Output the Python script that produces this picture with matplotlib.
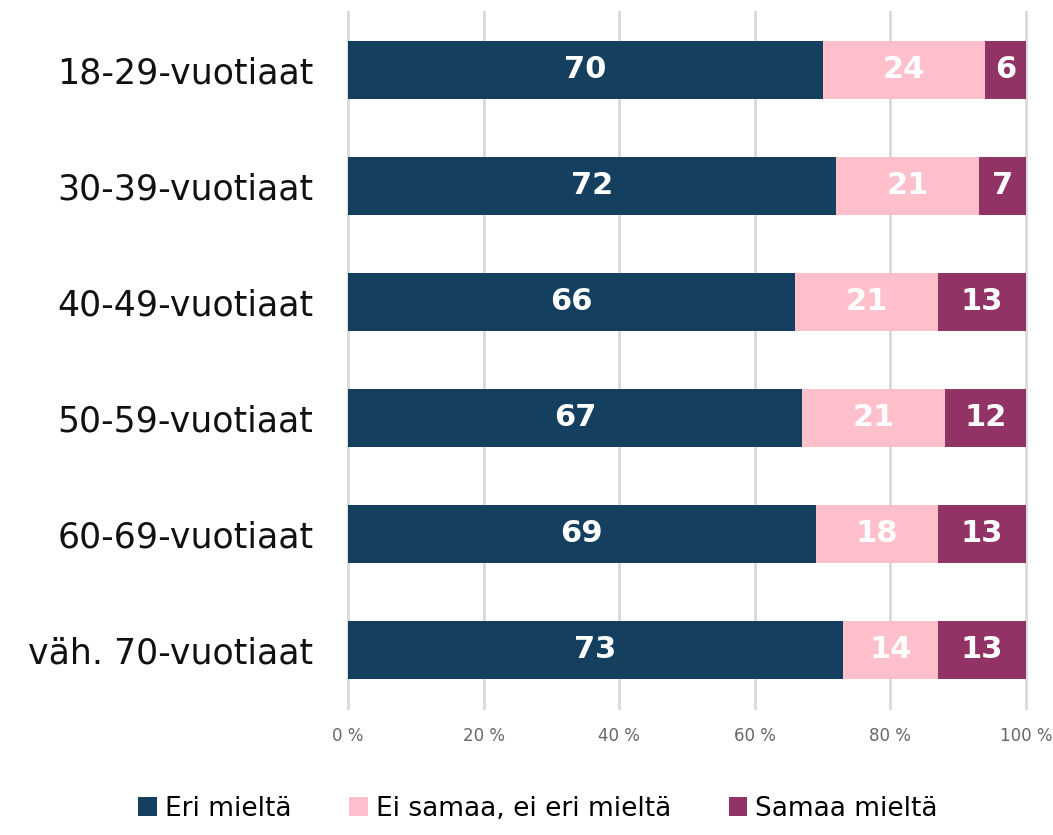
import numpy as np
import matplotlib.pyplot as plt

categories = ["18-29-vuotiaat", "30-39-vuotiaat", "40-49-vuotiaat",
              "50-59-vuotiaat", "60-69-vuotiaat", "väh. 70-vuotiaat"]
eri = [70, 72, 66, 67, 69, 73]
neutral = [24, 21, 21, 21, 18, 14]
samaa = [6, 7, 13, 12, 13, 13]
series_names = ["Eri mieltä", "Ei samaa, ei eri mieltä", "Samaa mieltä"]
colors = ["#143F5F", "#FFC0CB", "#923366"]
xticks = [0, 20, 40, 60, 80, 100]

fig = plt.figure(figsize=(10.53, 8.35), dpi=100)
ax = fig.add_axes([348 / 1053, 1 - 708 / 835, 678 / 1053, 696 / 835])

y = np.arange(len(categories))
left = np.zeros(len(categories))
for vals, name, col in zip([eri, neutral, samaa], series_names, colors):
    vals = np.array(vals)
    bars = ax.barh(y, vals, left=left, height=0.5, color=col, label=name, zorder=3)
    for b, v in zip(bars, vals):
        ax.text(b.get_x() + b.get_width() / 2, b.get_y() + b.get_height() / 2, str(v),
                ha="center", va="center", color="white", fontsize=22,
                fontweight="heavy", family="DejaVu Sans", zorder=4)
    left += vals

ax.set_xlim(0, 100)
ax.set_ylim(len(categories) - 0.5, -0.5)
ax.set_xticks(xticks)
ax.set_xticklabels([f"{t} %" for t in xticks], color="#666666", fontsize=12)
ax.set_yticks(y)
ax.set_yticklabels(categories, fontsize=25, color="#111111")
ax.tick_params(axis="x", length=0, pad=14)
ax.tick_params(axis="y", length=0, pad=25)
ax.grid(axis="x", color="#d9d9d9", linewidth=2, zorder=0, clip_on=False)
for s in ax.spines.values():
    s.set_visible(False)

h, l = ax.get_legend_handles_labels()
fig.legend(h, l, loc="lower center", bbox_to_anchor=(538 / 1053, 0.0), ncol=3,
           frameon=False, fontsize=19, handlelength=0.7, handleheight=0.7,
           handletextpad=0.3, columnspacing=2.2, borderaxespad=0.1)

fig.savefig("out.png", dpi=100)
